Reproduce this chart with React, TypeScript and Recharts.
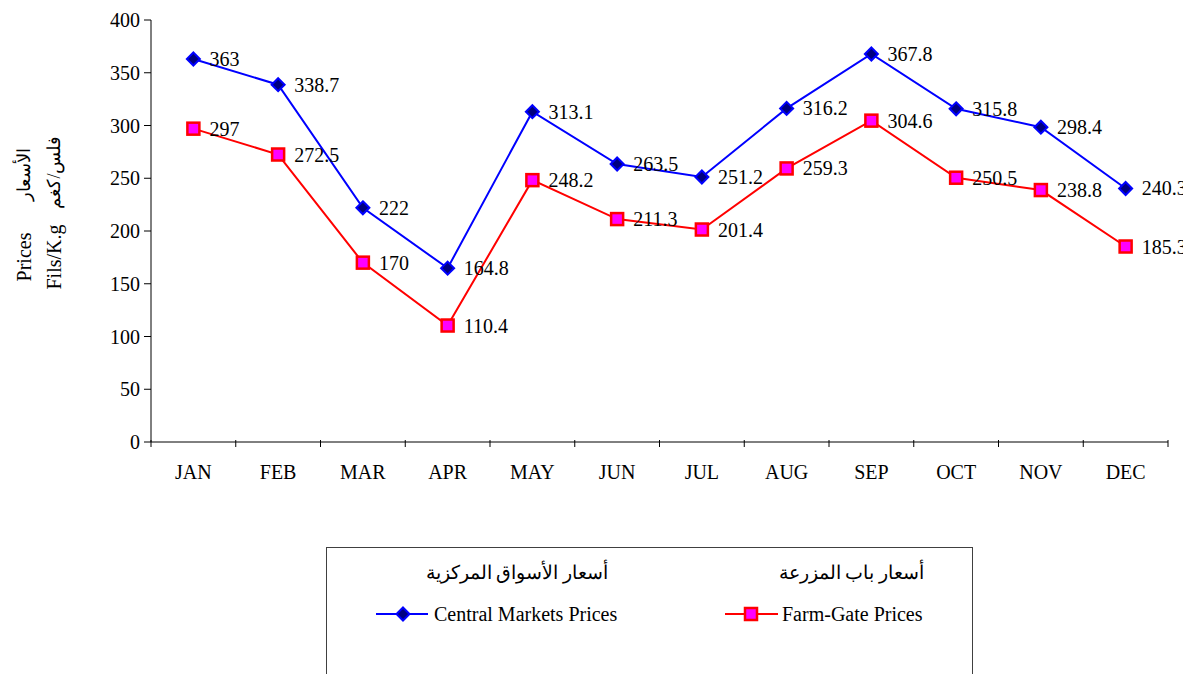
import { LineChart, Line, XAxis, YAxis, LabelList } from 'recharts'

const months = ['JAN', 'FEB', 'MAR', 'APR', 'MAY', 'JUN', 'JUL', 'AUG', 'SEP', 'OCT', 'NOV', 'DEC']
const centralMarkets = [363, 338.7, 222, 164.8, 313.1, 263.5, 251.2, 316.2, 367.8, 315.8, 298.4, 240.3]
const farmGate = [297, 272.5, 170, 110.4, 248.2, 211.3, 201.4, 259.3, 304.6, 250.5, 238.8, 185.3]
const yTicks = [0, 50, 100, 150, 200, 250, 300, 350, 400]

const data = months.map((m, i) => ({ month: m, central: centralMarkets[i], farm: farmGate[i] }))

const W = 1191
const H = 674
const AXIS_LEFT = 151
const MARGIN_RIGHT = 23
const BAND = (W - MARGIN_RIGHT - AXIS_LEFT) / months.length
const FONT = "'Liberation Serif', 'Times New Roman', 'DejaVu Serif', serif"

const MonthTick = ({ x, y, payload, index }: any) => {
  const left = x - BAND / 2
  const axisY = y - 10
  return (
    <g>
      <line x1={left} y1={axisY} x2={left} y2={axisY + 7} stroke="#000" />
      {index === months.length - 1 && (
        <line x1={x + BAND / 2} y1={axisY} x2={x + BAND / 2} y2={axisY + 7} stroke="#000" />
      )}
      <text x={x} y={axisY + 39} textAnchor="middle" fontSize={20} fontFamily={FONT} fill="#000">
        {payload.value}
      </text>
    </g>
  )
}

const Diamond = ({ cx, cy }: any) => (
  <polygon
    points={`${cx},${cy - 6.5} ${cx + 6.5},${cy} ${cx},${cy + 6.5} ${cx - 6.5},${cy}`}
    fill="#000080"
    stroke="#0000FF"
    strokeWidth={2}
  />
)

const Square = ({ cx, cy }: any) => (
  <rect x={cx - 6} y={cy - 6} width={12} height={12} fill="#FF00FF" stroke="#FF0000" strokeWidth={2.5} />
)

const ValueLabel = ({ x, y, value }: any) => (
  <text x={x + 16} y={y + 7} fontSize={20} fontFamily={FONT} fill="#000">
    {value}
  </text>
)

export default function App() {
  return (
    <div style={{ position: 'relative', width: W, height: H, marginLeft: -8, marginTop: -8, background: '#fff' }}>
      <LineChart width={W} height={H} data={data} margin={{ top: 20, right: MARGIN_RIGHT, left: 0, bottom: 202 }}>
        <XAxis
          dataKey="month"
          height={30}
          padding={{ left: BAND / 2, right: BAND / 2 }}
          tickLine={false}
          tick={<MonthTick />}
          axisLine={{ stroke: '#000' }}
          interval={0}
        />
        <YAxis
          width={AXIS_LEFT}
          domain={[0, 400]}
          ticks={yTicks}
          tickSize={7}
          tickMargin={4}
          tickLine={{ stroke: '#000' }}
          axisLine={{ stroke: '#000' }}
          tick={{ fill: '#000', fontSize: 20, fontFamily: FONT }}
        />
        <Line
          dataKey="farm"
          stroke="#FF0000"
          strokeWidth={2}
          dot={<Square />}
          isAnimationActive={false}
        >
          <LabelList dataKey="farm" content={<ValueLabel />} />
        </Line>
        <Line
          dataKey="central"
          stroke="#0000FF"
          strokeWidth={2}
          dot={<Diamond />}
          isAnimationActive={false}
        >
          <LabelList dataKey="central" content={<ValueLabel />} />
        </Line>
      </LineChart>
      <svg width={W} height={H} style={{ position: 'absolute', left: 0, top: 0, pointerEvents: 'none' }}>
        <g fontFamily={FONT} fontSize={20} fill="#000">
          <text x={24} y={257} transform="rotate(-90 24 257)" textAnchor="middle" dominantBaseline="central">
            Prices
          </text>
          <text x={24} y={174} transform="rotate(-90 24 174)" textAnchor="middle" dominantBaseline="central" fontSize={18}>
            الأسعار
          </text>
          <text x={54} y={257} transform="rotate(-90 54 257)" textAnchor="middle" dominantBaseline="central">
            Fils/K.g
          </text>
          <text x={54} y={172} transform="rotate(-90 54 172)" textAnchor="middle" dominantBaseline="central" fontSize={18}>
            فلس/كغم
          </text>
        </g>
        <rect x={326.5} y={547.5} width={646} height={140} fill="none" stroke="#404040" />
        <g fontFamily={FONT} fontSize={20} fill="#000">
          <text x={608} y={579} textAnchor="end" fontSize={19}>أسعار الأسواق المركزية</text>
          <text x={924} y={579} textAnchor="end" fontSize={19}>أسعار باب المزرعة</text>
          <line x1={376} y1={614} x2={428} y2={614} stroke="#0000FF" strokeWidth={2} />
          <Diamond cx={403} cy={614} />
          <text x={434} y={621}>Central Markets Prices</text>
          <line x1={725} y1={614} x2={778} y2={614} stroke="#FF0000" strokeWidth={2} />
          <Square cx={751} cy={614} />
          <text x={782} y={621}>Farm-Gate Prices</text>
        </g>
      </svg>
    </div>
  )
}
